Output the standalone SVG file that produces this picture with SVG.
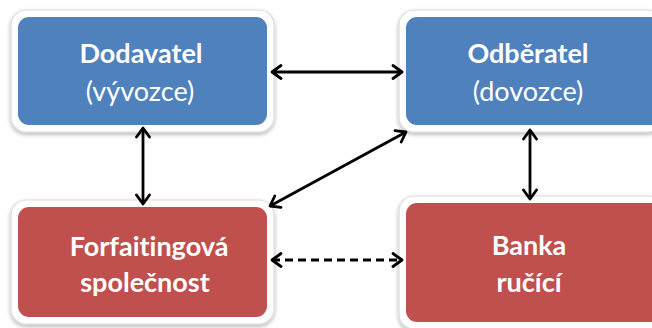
<svg xmlns="http://www.w3.org/2000/svg" width="652" height="328" viewBox="0 0 652 328">
<defs>
<filter id="sh" x="-10%" y="-10%" width="120%" height="130%">
<feGaussianBlur in="SourceAlpha" stdDeviation="2"/>
<feOffset dx="0" dy="1.5" result="b"/>
<feComponentTransfer><feFuncA type="linear" slope="0.3"/></feComponentTransfer>
<feMerge><feMergeNode/><feMergeNode in="SourceGraphic"/></feMerge>
</filter>
<marker id="ah" viewBox="0 0 14 16" refX="12" refY="8" markerWidth="14" markerHeight="16" markerUnits="userSpaceOnUse" orient="auto-start-reverse">
<path d="M3,1.5 L12,8 L3,14.5" fill="none" stroke="#000" stroke-width="2.8" stroke-linecap="round" stroke-linejoin="round"/>
</marker>
</defs>
<style>
.frame{fill:#fff;stroke:#dcdcdc;stroke-width:1.2}
.blue{fill:#4F81BD}
.red{fill:#C0504D}
.t{font-family:Lato,"Liberation Sans",sans-serif;font-size:27px;fill:#fff;text-anchor:middle;font-variant-ligatures:none}
.b{font-weight:bold}
.c{fill:none;stroke:#000;stroke-width:2.8;marker-start:url(#ah);marker-end:url(#ah)}
.d{stroke-dasharray:8,5}
</style>
<g id="dodavatel">
<rect class="frame" x="11" y="10" width="263" height="122" rx="15" filter="url(#sh)"/>
<rect class="blue" x="18" y="17" width="249" height="108" rx="11"/>
<text class="t b" x="141" y="63">Dodavatel</text>
<text class="t" x="140" y="101">(vývozce)</text>
</g>
<g id="odberatel">
<rect class="frame" x="399" y="10" width="263" height="122" rx="15" filter="url(#sh)"/>
<rect class="blue" x="406" y="17" width="256" height="108" rx="11"/>
<text class="t b" x="528" y="63">Odběratel</text>
<text class="t" x="528" y="101">(dovozce)</text>
</g>
<g id="forfaiting">
<rect class="frame" x="11" y="200" width="263" height="124" rx="15" filter="url(#sh)"/>
<rect class="red" x="18" y="207" width="249" height="110" rx="11"/>
<text class="t b" x="149" y="256">Forfaitingová</text>
<text class="t b" x="145" y="292">společnost</text>
</g>
<g id="banka">
<rect class="frame" x="399" y="196" width="263" height="133" rx="15" filter="url(#sh)"/>
<rect class="red" x="406" y="203" width="256" height="119" rx="11"/>
<text class="t b" x="529" y="255">Banka</text>
<text class="t b" x="529" y="292">ručící</text>
</g>
<g id="connectors">
<line class="c" x1="272" y1="72" x2="402" y2="72"/>
<line class="c" x1="143" y1="128" x2="143" y2="204"/>
<line class="c" x1="270" y1="206" x2="406" y2="132"/>
<line class="c" x1="530" y1="130" x2="530" y2="199"/>
<line class="c d" x1="272" y1="260" x2="402" y2="260"/>
</g>
</svg>
